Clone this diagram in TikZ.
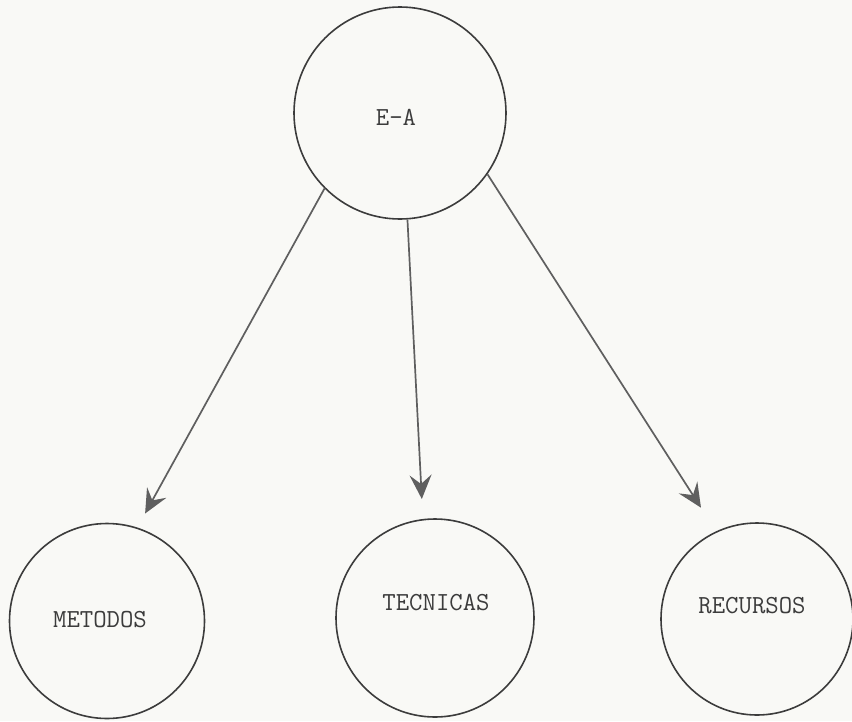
\documentclass[tikz,border=0pt]{standalone}
\usetikzlibrary{arrows.meta}
\definecolor{paper}{RGB}{249,249,246}
\definecolor{ink}{RGB}{60,60,60}
\definecolor{arrink}{RGB}{95,95,95}
\begin{document}
\begin{tikzpicture}[x=1pt,y=-1pt,
  circ/.style={circle,draw=ink,line width=1.6pt,inner sep=0pt},
  lbl/.style={font=\ttfamily\fontsize{26}{30}\selectfont,text=ink,inner sep=0pt},
  arr/.style={draw=arrink,line width=1.7pt,-{Stealth[length=24pt,width=22pt,inset=9pt]}}]
\fill[paper] (0,0) rectangle (852,721);
\useasboundingbox (0,0) rectangle (852,721);
\node[circ,minimum size=212pt] (ea) at (400,113) {};
\node[lbl] (eat) at (396,117) {E-A};
\node[circ,minimum size=195pt] (met) at (107,621) {};
\node[lbl] (mett) at (100,620) {METODOS};
\node[circ,minimum size=198pt] (tec) at (435,618) {};
\node[lbl] (tect) at (436,603) {TECNICAS};
\node[circ,minimum size=192pt] (rec) at (757,619) {};
\node[lbl] (rect) at (752,606) {RECURSOS};
\draw[arr,shorten >=16pt] (ea.-135) -- (met.72);
\draw[arr,shorten >=20pt] (ea.-86) -- (tec.97);
\draw[arr,shorten >=28pt] (ea.-35) -- (rec.115);
\end{tikzpicture}
\end{document}
